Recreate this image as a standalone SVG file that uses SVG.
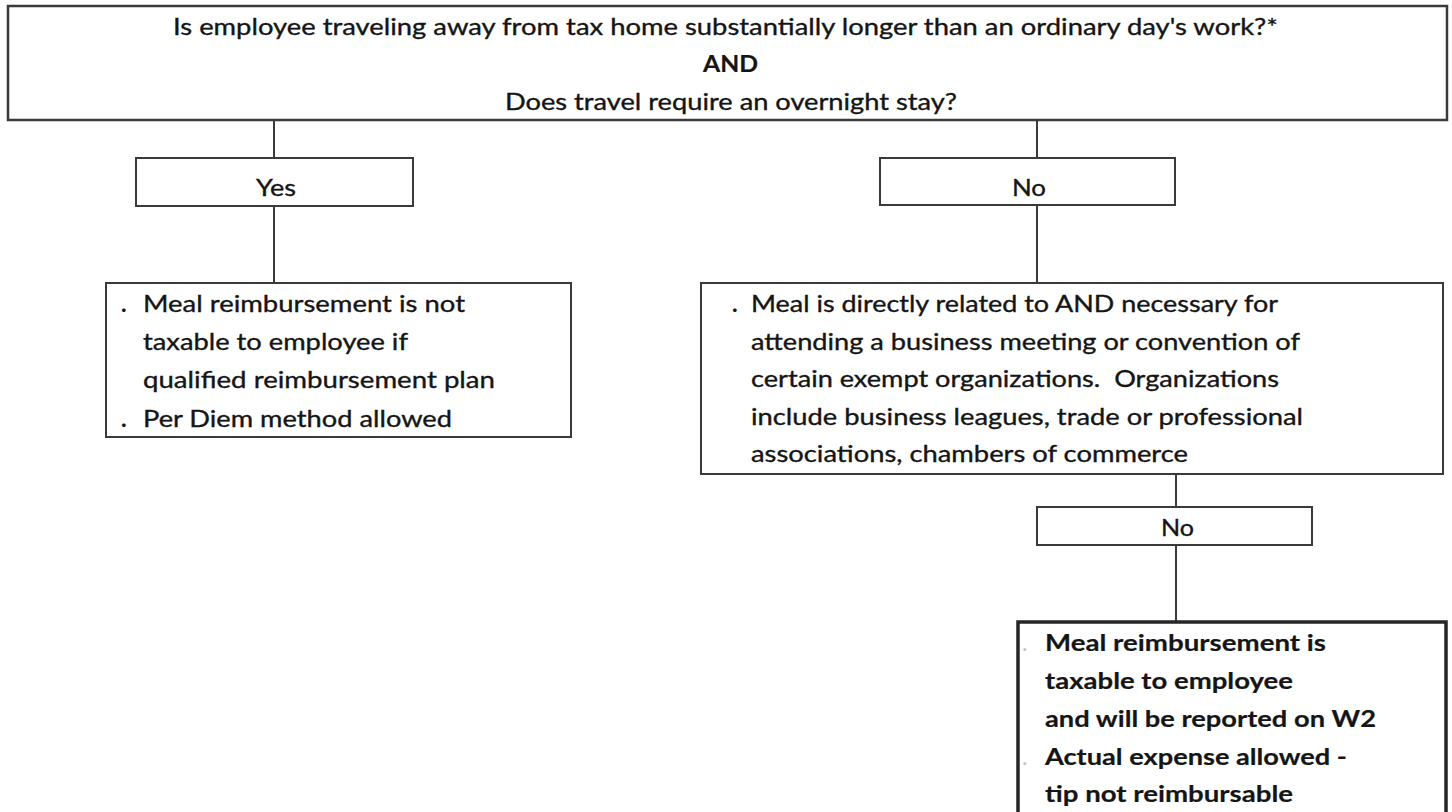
<svg xmlns="http://www.w3.org/2000/svg" width="1452" height="812" viewBox="0 0 1452 812">
  <style>
    .box { fill: #ffffff; stroke: #3a3a3a; stroke-width: 2; }
    .top { stroke-width: 2.5; }
    .thick { stroke: #262626; stroke-width: 3.5; }
    .t { font-family: Lato, "Open Sans", "Liberation Sans", sans-serif; font-size: 23.5px; fill: #151515; stroke: #151515; stroke-width: 0.35; }
    .b { font-weight: bold; stroke-width: 0.2; }
    .dim { fill: #c4c4c4; stroke: none; }
    .conn line { stroke: #3a3a3a; stroke-width: 2; }
  </style>
  <rect x="0" y="0" width="1452" height="812" fill="#ffffff"/>

  <g id="connectors" class="conn">
    <line x1="274" y1="120" x2="274" y2="158"/>
    <line x1="274" y1="206" x2="274" y2="283"/>
    <line x1="1037" y1="120" x2="1037" y2="158"/>
    <line x1="1037" y1="205" x2="1037" y2="283"/>
    <line x1="1176" y1="474" x2="1176" y2="507"/>
    <line x1="1176" y1="545" x2="1176" y2="622"/>
  </g>

  <g id="question">
    <rect class="box top" x="8" y="6" width="1439" height="114"/>
    <text class="t" x="173" y="35" textLength="1105" lengthAdjust="spacingAndGlyphs">Is employee traveling away from tax home substantially longer than an ordinary day's work?*</text>
    <text class="t b" x="703" y="72" textLength="55" lengthAdjust="spacingAndGlyphs">AND</text>
    <text class="t" x="505" y="110" textLength="452" lengthAdjust="spacingAndGlyphs">Does travel require an overnight stay?</text>
  </g>

  <g id="yes">
    <rect class="box" x="136" y="158" width="277" height="48"/>
    <text class="t" x="256" y="196" textLength="40" lengthAdjust="spacingAndGlyphs">Yes</text>
  </g>

  <g id="no1">
    <rect class="box" x="880" y="158" width="295" height="47"/>
    <text class="t" x="1012" y="196" textLength="34" lengthAdjust="spacingAndGlyphs">No</text>
  </g>

  <g id="yes-result">
    <rect class="box" x="106" y="283" width="465" height="154"/>
    <text class="t b" x="121" y="312">.</text>
    <text class="t" x="143" y="312" textLength="322" lengthAdjust="spacingAndGlyphs">Meal reimbursement is not</text>
    <text class="t" x="143" y="350" textLength="265" lengthAdjust="spacingAndGlyphs">taxable to employee if</text>
    <text class="t" x="143" y="388" textLength="352" lengthAdjust="spacingAndGlyphs">qualified reimbursement plan</text>
    <text class="t b" x="121" y="427">.</text>
    <text class="t" x="143" y="427" textLength="309" lengthAdjust="spacingAndGlyphs">Per Diem method allowed</text>
  </g>

  <g id="no-condition">
    <rect class="box" x="701" y="283" width="742" height="191"/>
    <text class="t b" x="732" y="312">.</text>
    <text class="t" x="751" y="312" textLength="527" lengthAdjust="spacingAndGlyphs">Meal is directly related to AND necessary for</text>
    <text class="t" x="751" y="349.5" textLength="549" lengthAdjust="spacingAndGlyphs">attending a business meeting or convention of</text>
    <text class="t" x="751" y="387" textLength="528" lengthAdjust="spacingAndGlyphs" style="white-space:pre">certain exempt organizations.  Organizations</text>
    <text class="t" x="751" y="424.5" textLength="552" lengthAdjust="spacingAndGlyphs">include business leagues, trade or professional</text>
    <text class="t" x="751" y="462" textLength="437" lengthAdjust="spacingAndGlyphs">associations, chambers of commerce</text>
  </g>

  <g id="no2">
    <rect class="box" x="1037" y="507" width="275" height="38"/>
    <text class="t" x="1161" y="536" textLength="33" lengthAdjust="spacingAndGlyphs">No</text>
  </g>

  <g id="no-result">
    <rect class="box thick" x="1018" y="622" width="428" height="200"/>
    <text class="t dim" x="1022" y="651">.</text>
    <text class="t b" x="1045" y="651" textLength="281" lengthAdjust="spacingAndGlyphs">Meal reimbursement is</text>
    <text class="t b" x="1045" y="689" textLength="248" lengthAdjust="spacingAndGlyphs">taxable to employee</text>
    <text class="t b" x="1045" y="727" textLength="331" lengthAdjust="spacingAndGlyphs">and will be reported on W2</text>
    <text class="t dim" x="1022" y="765">.</text>
    <text class="t b" x="1045" y="765" textLength="302" lengthAdjust="spacingAndGlyphs">Actual expense allowed -</text>
    <text class="t b" x="1045" y="802" textLength="248" lengthAdjust="spacingAndGlyphs">tip not reimbursable</text>
  </g>
</svg>
